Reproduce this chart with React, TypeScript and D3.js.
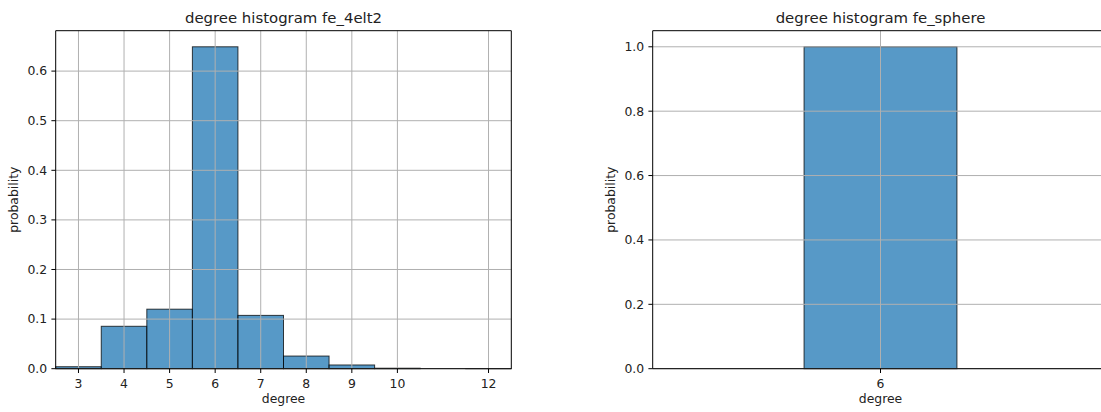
import React from "react";
import * as d3 from "d3";

// Degree distribution of the fe_4elt2 mesh graph (probability per integer degree)
const degrees4elt2 = [3, 4, 5, 6, 7, 8, 9, 10, 12];
const prob4elt2 = [0.004, 0.0855, 0.12, 0.649, 0.1075, 0.0255, 0.0075, 0.001, 0.0002];
const xTicks4elt2 = [3, 4, 5, 6, 7, 8, 9, 10, 12];
const yTicks4elt2 = [0, 0.1, 0.2, 0.3, 0.4, 0.5, 0.6];

// Degree distribution of the fe_sphere mesh graph
const degreesSphere = [6];
const probSphere = [1.0];
const xTicksSphere = [6];
const yTicksSphere = [0, 0.2, 0.4, 0.6, 0.8, 1.0];

const W = 1101;
const H = 412;
const FONT = "DejaVu Sans, Liberation Sans, sans-serif";
const BAR_FILL = "#1f77b4";
const GRID = "#b0b0b0";
const TEXT = "#222";

type PanelProps = {
  title: string;
  left: number;
  width: number;
  xDomain: [number, number];
  degrees: number[];
  probs: number[];
  xTicks: number[];
  yTicks: number[];
  yFmt: (v: number) => string;
  showRightSpine: boolean;
};

const TOP = 30.7;
const BOTTOM = 368.7;

function Panel(p: PanelProps) {
  const x = d3.scaleLinear().domain(p.xDomain).range([p.left, p.left + p.width]);
  const yMax = (d3.max(p.probs) ?? 1) * 1.05;
  const y = d3.scaleLinear().domain([0, yMax]).range([BOTTOM, TOP]);
  const right = p.left + p.width;
  const cx = p.left + p.width / 2;
  const cy = (TOP + BOTTOM) / 2;

  return (
    <g>
      {/* bars: one bin per integer degree, spanning [d-0.5, d+0.5] */}
      {p.degrees.map((d, i) => {
        const x0 = x(d - 0.5);
        const x1 = x(d + 0.5);
        const yt = y(p.probs[i]);
        return (
          <rect
            key={d}
            x={x0}
            y={yt}
            width={x1 - x0}
            height={BOTTOM - yt}
            fill={BAR_FILL}
            fillOpacity={0.75}
            stroke="#000"
            strokeOpacity={0.75}
            strokeWidth={1}
          />
        );
      })}
      {/* grid */}
      {p.yTicks.map((t) => (
        <line key={"gy" + t} x1={p.left} x2={right} y1={y(t)} y2={y(t)} stroke={GRID} strokeWidth={1} />
      ))}
      {p.xTicks.map((t) => (
        <line key={"gx" + t} x1={x(t)} x2={x(t)} y1={TOP} y2={BOTTOM} stroke={GRID} strokeWidth={1} />
      ))}
      {/* spines */}
      <line x1={p.left} x2={p.left} y1={TOP} y2={BOTTOM} stroke="#000" strokeWidth={1} />
      <line x1={p.left} x2={right} y1={BOTTOM} y2={BOTTOM} stroke="#000" strokeWidth={1} />
      <line x1={p.left} x2={right} y1={TOP} y2={TOP} stroke="#000" strokeWidth={1} />
      {p.showRightSpine && <line x1={right} x2={right} y1={TOP} y2={BOTTOM} stroke="#000" strokeWidth={1} />}
      {/* y ticks */}
      {p.yTicks.map((t) => (
        <g key={"yt" + t}>
          <line x1={p.left - 4.3} x2={p.left} y1={y(t)} y2={y(t)} stroke="#000" strokeWidth={1} />
          <text
            x={p.left - 8.6}
            y={y(t)}
            dy="0.35em"
            textAnchor="end"
            fontSize={12.4}
            fontFamily={FONT}
            fill={TEXT}
          >
            {p.yFmt(t)}
          </text>
        </g>
      ))}
      {/* x ticks */}
      {p.xTicks.map((t) => (
        <g key={"xt" + t}>
          <line x1={x(t)} x2={x(t)} y1={BOTTOM} y2={BOTTOM + 4.3} stroke="#000" strokeWidth={1} />
          <text x={x(t)} y={387.5} textAnchor="middle" fontSize={12.4} fontFamily={FONT} fill={TEXT}>
            {t}
          </text>
        </g>
      ))}
      <text x={cx} y={402.5} textAnchor="middle" fontSize={12.4} fontFamily={FONT} fill={TEXT}>
        degree
      </text>
      <text
        transform={`translate(${p.left - 38},${cy}) rotate(-90)`}
        textAnchor="middle"
        fontSize={12.4}
        fontFamily={FONT}
        fill={TEXT}
      >
        probability
      </text>
      <text x={cx} y={23.3} textAnchor="middle" fontSize={14.9} fontFamily={FONT} fill={TEXT}>
        {p.title}
      </text>
    </g>
  );
}

export default function App() {
  return (
    <svg
      width={W}
      height={H}
      style={{ position: "absolute", left: 0, top: 0, background: "#fff" }}
    >
      <rect width={W} height={H} fill="#fff" />
      <Panel
        title="degree histogram fe_4elt2"
        left={55.7}
        width={455.6}
        xDomain={[2.5, 12.5]}
        degrees={degrees4elt2}
        probs={prob4elt2}
        xTicks={xTicks4elt2}
        yTicks={yTicks4elt2}
        yFmt={d3.format(".1f")}
        showRightSpine={true}
      />
      <Panel
        title="degree histogram fe_sphere"
        left={652.7}
        width={455.6}
        xDomain={[4.51, 7.49]}
        degrees={degreesSphere}
        probs={probSphere}
        xTicks={xTicksSphere}
        yTicks={yTicksSphere}
        yFmt={d3.format(".1f")}
        showRightSpine={true}
      />
    </svg>
  );
}
